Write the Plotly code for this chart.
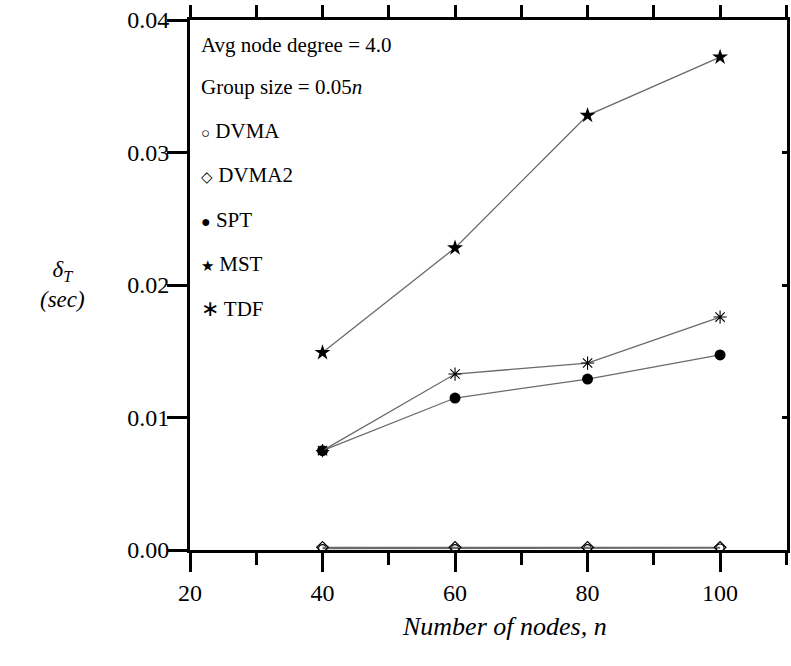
import plotly.graph_objects as go

nodes = [40, 60, 80, 100]
dvma = [0.0001, 0.0001, 0.0001, 0.00015]
dvma2 = [0.0002, 0.0002, 0.0002, 0.0002]
spt = [0.0075, 0.01147, 0.0129, 0.01472]
mst = [0.0149, 0.0228, 0.0328, 0.0372]
tdf = [0.0075, 0.01328, 0.01411, 0.01758]

x_ticks = [20, 40, 60, 80, 100]
y_ticks = [0.00, 0.01, 0.02, 0.03, 0.04]
y_labels = ["0.00", "0.01", "0.02", "0.03", "0.04"]

header_lines = ["Avg node degree = 4.0", "Group size = 0.05<i>n</i>"]
legend_names = ["DVMA", "DVMA2", "SPT", "MST", "TDF"]
legend_symbols = ["\u25cb", "\u25c7", "\u25cf", "\u2605", "\u2217"]
legend_symbol_sizes = [15, 15, 16, 15, 22]

LINE = "#6a6a6a"
SERIF = "Liberation Serif, Times New Roman, serif"

fig = go.Figure()
series = [
    (dvma, dict(symbol="circle-open", size=8, color="black", line=dict(width=1.2, color="black"))),
    (dvma2, dict(symbol="diamond-open", size=9, color="black", line=dict(width=1.2, color="black"))),
    (spt, dict(symbol="circle", size=11, color="black")),
    (mst, dict(symbol="star", size=12, color="black")),
    (tdf, dict(symbol="asterisk-open", size=11, color="black", line=dict(width=1.1, color="black"))),
]
for name, (vals, mk) in zip(legend_names, series):
    fig.add_trace(go.Scatter(x=nodes, y=vals, name=name, mode="lines+markers",
                             line=dict(color=LINE, width=1.3), marker=mk, showlegend=False))

# invisible trace for secondary axes
fig.add_trace(go.Scatter(x=[None], y=[None], xaxis="x2", yaxis="y2", showlegend=False))

axis_common = dict(showline=True, linecolor="black", linewidth=3, showgrid=False, zeroline=False,
                   tickcolor="black", tickwidth=3)

fig.update_layout(
    width=791, height=666,
    margin=dict(l=190, r=4, t=20, b=116),
    plot_bgcolor="white", paper_bgcolor="white",
    font=dict(family=SERIF, size=22, color="black"),
    xaxis=dict(range=[20, 110.1], tickvals=x_ticks, ticks="outside", ticklen=19,
               tickfont=dict(family=SERIF, size=24), ticklabelstandoff=0,
               minor=dict(dtick=10, tick0=0, ticks="outside", ticklen=12, tickwidth=3, tickcolor="black"),
               **axis_common),
    yaxis=dict(range=[0, 0.04], tickvals=y_ticks, ticktext=y_labels, ticks="outside", ticklen=20,
               tickfont=dict(family=SERIF, size=24), ticklabelstandoff=-7, **axis_common),
    xaxis2=dict(range=[20, 110.1], overlaying="x", side="top", dtick=10, tick0=0,
                ticks="outside", ticklen=12, showticklabels=False, **axis_common),
    yaxis2=dict(range=[0, 0.04], overlaying="y", side="right", dtick=0.01, tick0=0,
                ticks="inside", ticklen=5, showticklabels=False, **axis_common),
)

px0, pw, py0, ph = 190, 597, 550, 530
def px(xp):
    return (xp - px0) / pw
def py(yp):
    return (py0 - yp) / ph

legend_lines = header_lines + [
    f"<span style='font-size:{s}px'>{sym}</span> {nm}"
    for sym, s, nm in zip(legend_symbols, legend_symbol_sizes, legend_names)
]
row_y = [45, 87, 131, 175, 220, 264, 308]
for txt, yy in zip(legend_lines, row_y):
    fig.add_annotation(text=txt, xref="paper", yref="paper", x=px(199), y=py(yy),
                       xanchor="left", yanchor="middle", showarrow=False,
                       font=dict(family=SERIF, size=21, color="black"))

fig.add_annotation(text="<i>\u03b4</i><sub><i>T</i></sub><br><i>(sec)</i>", xref="paper", yref="paper",
                   x=px(62), y=py(284), xanchor="center", yanchor="middle", showarrow=False,
                   font=dict(family=SERIF, size=23, color="black"))
fig.add_annotation(text="<i>Number of nodes, n</i>", xref="paper", yref="paper",
                   x=px(504), y=py(626), xanchor="center", yanchor="middle", showarrow=False,
                   font=dict(family=SERIF, size=26, color="black"))

fig.write_html("out.html")
